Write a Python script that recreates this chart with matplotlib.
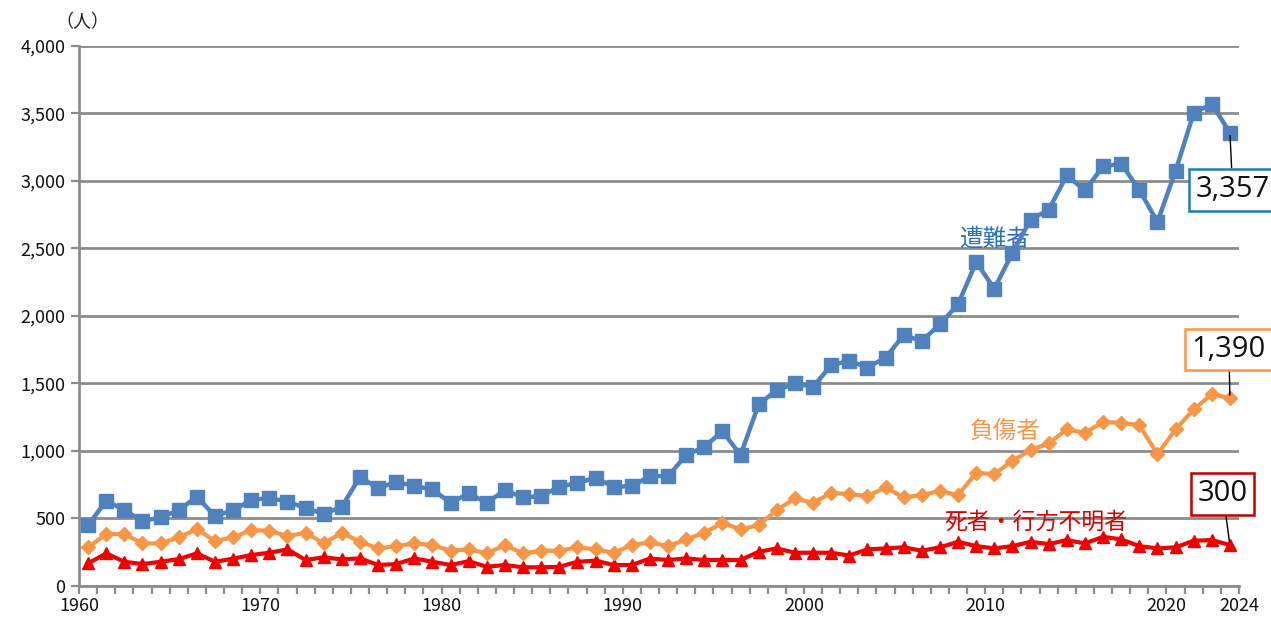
import matplotlib
matplotlib.use("Agg")
import matplotlib.pyplot as plt
import numpy as np

plt.rcParams['font.family'] = ['Noto Sans CJK JP', 'DejaVu Sans']

years = list(range(1961, 2025))

victims = [448, 628, 559, 478, 505, 559, 658, 515, 559, 633,
           650, 621, 576, 530, 584, 806, 720, 769, 737, 712,
           613, 683, 613, 707, 653, 663, 732, 761, 799, 732,
           737, 811, 811, 967, 1028, 1144, 967, 1344, 1448, 1498,
           1473, 1633, 1666, 1616, 1690, 1855, 1813, 1937, 2085, 2398,
           2201, 2465, 2712, 2786, 3040, 2929, 3107, 3127, 2934, 2695,
           3073, 3502, 3571, 3357]

injured = [283, 381, 381, 312, 312, 357, 418, 330, 357, 411,
           406, 367, 391, 312, 391, 324, 275, 292, 312, 300,
           258, 268, 238, 300, 238, 258, 258, 283, 268, 243,
           300, 320, 292, 342, 391, 465, 416, 448, 559, 646,
           613, 687, 677, 663, 727, 653, 670, 702, 670, 836,
           826, 925, 1004, 1053, 1157, 1132, 1213, 1206, 1189, 974,
           1157, 1305, 1418, 1390]

dead = [164, 238, 176, 159, 176, 196, 238, 176, 199, 226,
        243, 268, 189, 209, 194, 201, 152, 159, 201, 176,
        152, 180, 139, 152, 135, 135, 139, 176, 184, 152,
        152, 200, 189, 201, 189, 189, 189, 250, 275, 243,
        243, 243, 222, 268, 275, 283, 258, 283, 324, 292,
        275, 292, 324, 307, 337, 312, 361, 342, 292, 275,
        283, 332, 337, 300]

series_names = ['遭難者', '負傷者', '死者・行方不明者']
major_labels = [1960, 1970, 1980, 1990, 2000, 2010, 2020, 2024]
y_ticks = list(range(0, 4001, 500))

fig = plt.figure(figsize=(12.71, 6.19), dpi=100)
ax = fig.add_axes([0.0622, 0.0541, 0.9126, 0.8716])

x = np.array(years) - 0.5
grid_c = '#8c8c8c'

c_blue = '#4F81BD'
c_orange = '#F79646'
c_red = '#F00000'

ax.plot(x, victims, color=c_blue, lw=3.2, marker='s', ms=10, zorder=5)
ax.plot(x, injured, color=c_orange, lw=3.0, marker='D', ms=7, zorder=4)
ax.plot(x, dead, color=c_red, lw=3.0, marker='^', ms=8.5, zorder=3)

ax.set_xlim(1960, 2024)
ax.set_ylim(0, 4000)
ax.set_yticks(y_ticks)
ax.set_yticklabels([f'{v:,}' for v in y_ticks], fontsize=13)
ax.yaxis.grid(True, color=grid_c, lw=2.0)
ax.set_axisbelow(True)

all_years = list(range(1960, 2025))
ax.set_xticks(all_years)
ax.set_xticklabels([str(y) if y in major_labels else '' for y in all_years], fontsize=13)

for s in ['top', 'right']:
    ax.spines[s].set_visible(False)
for s in ['left', 'bottom']:
    ax.spines[s].set_color(grid_c)
    ax.spines[s].set_linewidth(2.0)
ax.tick_params(axis='both', colors=grid_c, length=6, width=1.6, labelcolor='#111111')
ax.tick_params(axis='x', pad=2)
ax.tick_params(axis='y', pad=4)

fig.text(0.044, 0.965, '（人）', fontsize=13, color='#222222', ha='left', va='center')

ax.text(2010.5, 2570, series_names[0], color='#2A72B8', fontsize=17, ha='center', va='center')
ax.text(2011.1, 1140, series_names[1], color=c_orange, fontsize=17, ha='center', va='center')
ax.text(2012.8, 470, series_names[2], color='#E00000', fontsize=16.5, ha='center', va='center')

def label(val, xi, off, ec):
    ax.annotate(f'{val:,}', xy=(xi, val), xycoords='data',
                xytext=off, textcoords='offset points',
                fontsize=21, ha='center', va='center', color='#111111',
                family=['Open Sans', 'DejaVu Sans'],
                bbox=dict(boxstyle='square,pad=0.22', fc='white', ec=ec, lw=1.8),
                arrowprops=dict(arrowstyle='-', color='black', lw=1.0,
                                shrinkA=0, shrinkB=2),
                annotation_clip=False, zorder=10)

label(victims[-1], x[-1], (2, -41), '#1E7CB4')
label(injured[-1], x[-1], (-0.7, 35), c_orange)
label(dead[-1], x[-1], (-5, 37), '#C00000')

fig.savefig('out.png', dpi=100)
